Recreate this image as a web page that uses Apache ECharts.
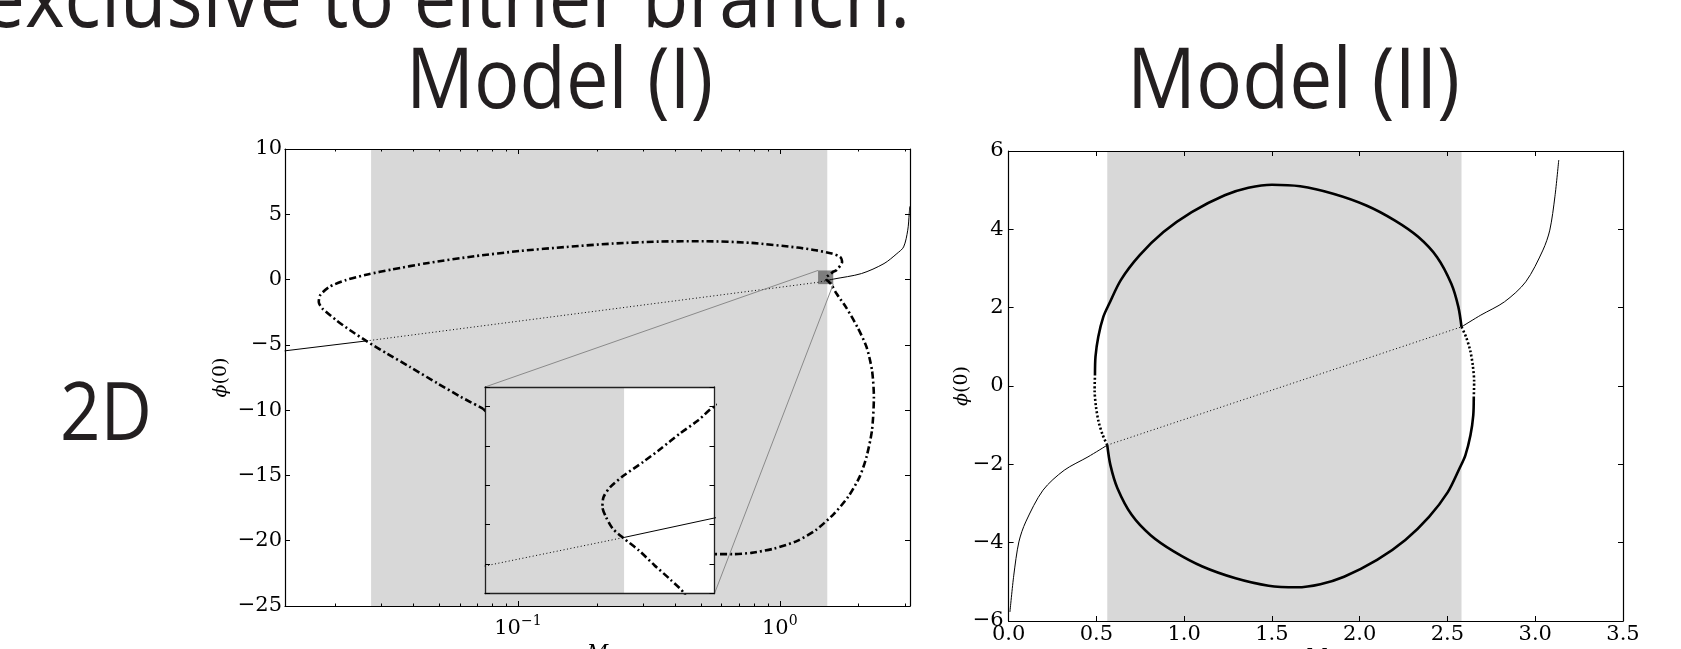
<!DOCTYPE html>
<html><head><meta charset="utf-8">
<script src="https://cdn.jsdelivr.net/npm/echarts@6/dist/echarts.min.js"></script>
<style>html,body{margin:0;padding:0;background:#fff;}#c{width:1681px;height:649px;}</style>
</head><body><div id="c"></div>
<script>
// ---------- texts ----------
const headerText = 'exclusive to either branch.';
const panelTitles = ['Model (I)', 'Model (II)'];
const rowLabel = '2D';
const axisNameX = 'M';
const axisNameYPhi = 'ϕ';
const axisNameYArg = '(0)';

// ---------- axes / ticks ----------
const leftXRange = [0.0129, 3.1416];
const leftYTicks = [-25, -20, -15, -10, -5, 0, 5, 10];
const rightXTicks = [0, 0.5, 1, 1.5, 2, 2.5, 3, 3.5];
const rightYTicks = [-6, -4, -2, 0, 2, 4, 6];
const insetXRange = [1.40, 1.60];
const insetYRange = [-0.35, 0.70];
const leftBand = [0.0275, 1.518];
const rightBand = [0.562, 2.58];

// ---------- Model (I) data : [M, phi(0)] ----------
const leftStableLow = [[0.01286, -5.46], [0.02635, -4.70]];
const leftUnstable = [[0.02635, -4.70], [1.40, -0.21], [1.518, -0.065]];
const leftStableHigh = [[1.518, -0.065], [1.60, 0.034], [2.05, 0.46], [2.50, 1.225], [2.80, 1.99], [2.97, 2.50], [3.08, 3.78], [3.12, 5.05], [3.135, 5.6]];
const leftBranch = [
  [0.0735, -9.88], [0.09, -11.6], [0.12, -14.0], [0.17, -16.5], [0.25, -18.7], [0.37, -20.3], [0.551, -21.03],
  [0.661, -21.03], [0.778, -20.93], [0.952, -20.60], [1.166, -20.01], [1.372, -19.19], [1.613, -17.92],
  [1.823, -16.64], [2.017, -15.11], [2.143, -13.58], [2.249, -11.54], [2.287, -8.98], [2.249, -6.94],
  [2.143, -5.16], [1.976, -3.62], [1.786, -2.09], [1.646, -1.07], [1.572, -0.35], [1.560, -0.282],
  [1.545, -0.206], [1.531, -0.130], [1.518, -0.071], [1.508, -0.020], [1.502, 0.040], [1.499, 0.090],
  [1.500, 0.141], [1.506, 0.192], [1.518, 0.251], [1.535, 0.319], [1.551, 0.387], [1.568, 0.463],
  [1.585, 0.531], [1.600, 0.602], [1.646, 0.715], [1.729, 1.353], [1.701, 1.736], [1.58, 1.99],
  [1.372, 2.246], [1.166, 2.45], [0.778, 2.81], [0.5186, 2.935], [0.3457, 2.91], [0.2305, 2.757],
  [0.1537, 2.50], [0.1024, 2.195], [0.0683, 1.787], [0.0455, 1.276], [0.0329, 0.766], [0.0269, 0.408],
  [0.02196, -0.051], [0.01905, -0.56], [0.01757, -1.20], [0.01736, -1.71], [0.01793, -2.22],
  [0.02025, -3.11], [0.02286, -3.88], [0.02635, -4.70], [0.03162, -5.67], [0.0387, -6.69],
  [0.0494, -7.96], [0.0605, -8.98], [0.0735, -9.88]
];

// ---------- Model (II) data : [M, phi(0)] ----------
const rightThinLow = [[0.0076, -5.77], [0.0296, -4.83], [0.0586, -3.98], [0.0976, -3.47], [0.196, -2.66], [0.317, -2.15], [0.452, -1.81], [0.562, -1.51]];
const rightThinHigh = [[2.58, 1.51], [2.69, 1.81], [2.825, 2.15], [2.946, 2.66], [3.044, 3.47], [3.083, 3.98], [3.112, 4.83], [3.134, 5.77]];
const rightThinDotted = [[0.562, -1.51], [1.571, 0], [2.58, 1.51]];
const rightArcUpper = [[0.492, 0.27], [0.495, 0.75], [0.511, 1.26], [0.540, 1.77], [0.573, 2.10], [0.640, 2.71], [0.747, 3.34], [0.882, 3.93], [1.043, 4.44], [1.231, 4.87], [1.366, 5.06], [1.50, 5.14], [1.661, 5.10], [1.849, 4.91], [2.038, 4.61], [2.199, 4.23], [2.333, 3.81], [2.441, 3.29], [2.522, 2.61], [2.562, 2.02], [2.58, 1.51]];
const rightArcRightDotted = [[2.58, 1.51], [2.606, 1.25], [2.630, 0.9], [2.645, 0.5], [2.652, 0.1], [2.650, -0.27]];
const rightArcLower = [[2.650, -0.27], [2.647, -0.75], [2.631, -1.26], [2.602, -1.77], [2.569, -2.10], [2.502, -2.71], [2.395, -3.34], [2.260, -3.93], [2.099, -4.44], [1.911, -4.87], [1.776, -5.06], [1.642, -5.14], [1.481, -5.10], [1.293, -4.91], [1.104, -4.61], [0.943, -4.23], [0.809, -3.81], [0.701, -3.29], [0.620, -2.61], [0.580, -2.02], [0.562, -1.51]];
const rightArcLeftDotted = [[0.562, -1.51], [0.536, -1.25], [0.512, -0.9], [0.497, -0.5], [0.490, -0.1], [0.492, 0.27]];

// ---------- helpers ----------
const SERIF = 'DejaVu Serif';
const minus = v => String(v).replace('-', '\u2212');
const tickStyle = {show: true, inside: true, length: 5, lineStyle: {color: '#000', width: 1}};
const spine = (c, w) => ({show: true, onZero: false, lineStyle: {color: c || '#000', width: w || 1.2}});
const hiddenLabel = {show: false};
const nameStyle = {fontFamily: SERIF, fontStyle: 'italic', fontSize: 21, color: '#000'};
const yNameStyle = {
  rich: {
    i: {fontFamily: SERIF, fontStyle: 'italic', fontSize: 19, color: '#000'},
    n: {fontFamily: SERIF, fontSize: 19, color: '#000'}
  }
};
const logFormatter = v => {
  const e = Math.log10(v), r = Math.round(e);
  if (Math.abs(e - r) > 1e-6) return '';
  return '{b|10}{s|' + (r < 0 ? '\u2212' + (-r) : r) + '}';
};
const logRich = {
  b: {fontFamily: SERIF, fontSize: 21, color: '#000', verticalAlign: 'bottom'},
  s: {fontFamily: SERIF, fontSize: 14, color: '#000', verticalAlign: 'bottom', padding: [0, 0, 11, 0]}
};
const minorLog = {show: true, splitNumber: 9, length: 2.5, lineStyle: {color: '#000', width: 1}};

const lineS = (data, xi, yi, style, extra) => Object.assign({
  type: 'line', data: data, xAxisIndex: xi, yAxisIndex: yi, showSymbol: false, symbol: 'none',
  silent: true, animation: false, smooth: false, lineStyle: style, z: 2
}, extra || {});

const solidThin = {color: '#000', width: 1, type: 'solid'};
const dottedThin = {color: '#000', width: 1, type: [1, 2.5]};
const dashDot = {color: '#000', width: 2.6, type: [7, 3, 2, 3]};
const solidThick = {color: '#000', width: 2.6, type: 'solid'};
const dottedThick = {color: '#000', width: 2.6, type: [2, 2.2]};

const bandColor = '#d8d8d8';

const option = {
  animation: false,
  backgroundColor: '#fff',
  grid: [
    {left: 285, top: 149, width: 625, height: 457, outerBoundsMode: 'none', containLabel: false},
    {left: 1008.6, top: 151, width: 614.4, height: 470, outerBoundsMode: 'none', containLabel: false},
    {left: 485, top: 387, width: 229.5, height: 206.5, show: true, backgroundColor: '#fff', borderWidth: 0, z: 10, outerBoundsMode: 'none', containLabel: false}
  ],
  xAxis: [
    {gridIndex: 0, type: 'log', logBase: 10, min: leftXRange[0], max: leftXRange[1], position: 'bottom', z: 3,
     axisLine: spine(), axisTick: tickStyle, minorTick: minorLog, splitLine: {show: false},
     axisLabel: {formatter: logFormatter, rich: logRich, margin: 8, showMinLabel: false, showMaxLabel: false},
     name: axisNameX, nameLocation: 'middle', nameGap: 37, nameTextStyle: nameStyle, nameMoveOverlap: false},
    {gridIndex: 0, type: 'log', logBase: 10, min: leftXRange[0], max: leftXRange[1], position: 'top', z: 3,
     axisLine: spine(), axisTick: tickStyle, minorTick: minorLog, splitLine: {show: false}, axisLabel: hiddenLabel},
    {gridIndex: 1, type: 'value', min: rightXTicks[0], max: rightXTicks[rightXTicks.length - 1], interval: rightXTicks[1] - rightXTicks[0], position: 'bottom', z: 3,
     axisLine: spine(), axisTick: tickStyle, splitLine: {show: false},
     axisLabel: {formatter: v => v.toFixed(1), fontFamily: SERIF, fontSize: 21, color: '#000', margin: 3},
     name: axisNameX, nameLocation: 'middle', nameGap: 26, nameTextStyle: nameStyle, nameMoveOverlap: false},
    {gridIndex: 1, type: 'value', min: rightXTicks[0], max: rightXTicks[rightXTicks.length - 1], interval: rightXTicks[1] - rightXTicks[0], position: 'top', z: 3,
     axisLine: spine(), axisTick: tickStyle, splitLine: {show: false}, axisLabel: hiddenLabel},
    {gridIndex: 2, type: 'log', logBase: 10, min: insetXRange[0], max: insetXRange[1], position: 'bottom', z: 11,
     axisLine: spine('#222', 1.3), axisTick: {show: false}, splitLine: {show: false}, axisLabel: hiddenLabel},
    {gridIndex: 2, type: 'log', logBase: 10, min: insetXRange[0], max: insetXRange[1], position: 'top', z: 11,
     axisLine: spine('#222', 1.3), axisTick: {show: false}, splitLine: {show: false}, axisLabel: hiddenLabel}
  ],
  yAxis: [
    {gridIndex: 0, type: 'value', min: leftYTicks[0], max: leftYTicks[leftYTicks.length - 1], interval: leftYTicks[1] - leftYTicks[0], position: 'left', z: 3,
     axisLine: spine(), axisTick: tickStyle, splitLine: {show: false},
     axisLabel: {formatter: minus, fontFamily: SERIF, fontSize: 21, color: '#000', margin: 3},
     name: '{i|' + axisNameYPhi + '}{n|' + axisNameYArg + '}', nameLocation: 'middle', nameGap: 54, nameTextStyle: yNameStyle, nameMoveOverlap: false},
    {gridIndex: 0, type: 'value', min: leftYTicks[0], max: leftYTicks[leftYTicks.length - 1], interval: leftYTicks[1] - leftYTicks[0], position: 'right', z: 3,
     axisLine: spine(), axisTick: tickStyle, splitLine: {show: false}, axisLabel: hiddenLabel},
    {gridIndex: 1, type: 'value', min: rightYTicks[0], max: rightYTicks[rightYTicks.length - 1], interval: rightYTicks[1] - rightYTicks[0], position: 'left', z: 3,
     axisLine: spine(), axisTick: tickStyle, splitLine: {show: false},
     axisLabel: {formatter: minus, fontFamily: SERIF, fontSize: 21, color: '#000', margin: 5},
     name: '{i|' + axisNameYPhi + '}{n|' + axisNameYArg + '}', nameLocation: 'middle', nameGap: 37, nameTextStyle: yNameStyle, nameMoveOverlap: false},
    {gridIndex: 1, type: 'value', min: rightYTicks[0], max: rightYTicks[rightYTicks.length - 1], interval: rightYTicks[1] - rightYTicks[0], position: 'right', z: 3,
     axisLine: spine(), axisTick: tickStyle, splitLine: {show: false}, axisLabel: hiddenLabel},
    {gridIndex: 2, type: 'value', min: insetYRange[0], max: insetYRange[1], splitNumber: 5, position: 'left', z: 11,
     axisLine: spine('#222', 1.3), axisTick: tickStyle, splitLine: {show: false}, axisLabel: hiddenLabel},
    {gridIndex: 2, type: 'value', min: insetYRange[0], max: insetYRange[1], splitNumber: 5, position: 'right', z: 11,
     axisLine: spine('#222', 1.3), axisTick: tickStyle, splitLine: {show: false}, axisLabel: hiddenLabel}
  ],
  series: [
    // ----- Model (I) main -----
    lineS(leftStableLow, 0, 0, solidThin, {
      markArea: {silent: true, z: 1, label: {show: false}, itemStyle: {color: bandColor, borderWidth: 0},
        data: [[{xAxis: leftBand[0]}, {xAxis: leftBand[1]}]]}
    }),
    lineS(leftUnstable, 0, 0, dottedThin, {
      markArea: {silent: true, z: 1.5, label: {show: false}, itemStyle: {color: 'rgba(95,95,95,0.75)', borderWidth: 0},
        data: [[{coord: [insetXRange[0], insetYRange[1]]}, {coord: [insetXRange[1], insetYRange[0]]}]]}
    }),
    lineS(leftStableHigh, 0, 0, solidThin, {smooth: 0.3}),
    lineS(leftBranch, 0, 0, dashDot, {smooth: 0.25}),
    // ----- Model (II) -----
    lineS(rightThinLow, 2, 2, solidThin, {smooth: 0.3,
      markArea: {silent: true, z: 1, label: {show: false}, itemStyle: {color: bandColor, borderWidth: 0},
        data: [[{xAxis: rightBand[0]}, {xAxis: rightBand[1]}]]}
    }),
    lineS(rightThinHigh, 2, 2, solidThin, {smooth: 0.3}),
    lineS(rightThinDotted, 2, 2, dottedThin),
    lineS(rightArcUpper, 2, 2, solidThick, {smooth: 0.3}),
    lineS(rightArcRightDotted, 2, 2, dottedThick, {smooth: 0.3}),
    lineS(rightArcLower, 2, 2, solidThick, {smooth: 0.3}),
    lineS(rightArcLeftDotted, 2, 2, dottedThick, {smooth: 0.3}),
    // ----- inset -----
    lineS(leftUnstable, 4, 4, dottedThin, {z: 12,
      markArea: {silent: true, z: 10.5, label: {show: false}, itemStyle: {color: bandColor, borderWidth: 0},
        data: [[{xAxis: insetXRange[0]}, {xAxis: leftBand[1]}]]}
    }),
    lineS(leftStableHigh, 4, 4, solidThin, {z: 12}),
    lineS(leftBranch, 4, 4, dashDot, {z: 12, smooth: 0.25})
  ]
};

const chart = echarts.init(document.getElementById('c'), null, {renderer: 'canvas'});
chart.setOption(option);

// ---------- text & connector overlays ----------
const ctx = document.createElement('canvas').getContext('2d');
const textWidth = (t, font) => { ctx.font = font; return ctx.measureText(t).width; };
const titleFont = '84px "Open Sans"';
const rowFont = '81px "Open Sans"';
const sI = 307 / textWidth(panelTitles[0], titleFont);
const sII = 333 / textWidth(panelTitles[1], titleFont);
const s2D = 92 / textWidth(rowLabel, rowFont);
const headerLeft = 25 - textWidth('e', titleFont) * sI;

const txt = (text, x, y, font, sx, align) => ({
  type: 'text', x: x, y: y, scaleX: sx, scaleY: 1, z: 20, silent: true,
  style: {text: text, font: font, fill: '#231f20', align: align, textAlign: align, verticalAlign: 'middle', textVerticalAlign: 'middle'}
});

const px = (xi, yi, v) => chart.convertToPixel({xAxisIndex: xi, yAxisIndex: yi}, v);
const boxTL = px(0, 0, [insetXRange[0], insetYRange[1]]);
const boxBR = px(0, 0, [insetXRange[1], insetYRange[0]]);
const insTL = px(4, 4, [insetXRange[0], insetYRange[1]]);
const insBR = px(4, 4, [insetXRange[1], insetYRange[0]]);
const conn = (a, b) => ({type: 'line', z: 9, silent: true,
  shape: {x1: a[0], y1: a[1], x2: b[0], y2: b[1]}, style: {stroke: '#8a8a8a', lineWidth: 1}});

chart.setOption({
  graphic: [
    txt(headerText, headerLeft, 3.4, titleFont, sI, 'left'),
    txt(panelTitles[0], 559.5, 84.4, titleFont, sI, 'center'),
    txt(panelTitles[1], 1293.5, 84.4, titleFont, sII, 'center'),
    txt(rowLabel, 106, 416.5, rowFont, s2D, 'center'),
    conn(insTL, boxTL),
    conn(insBR, boxBR)
  ]
});
</script></body></html>
